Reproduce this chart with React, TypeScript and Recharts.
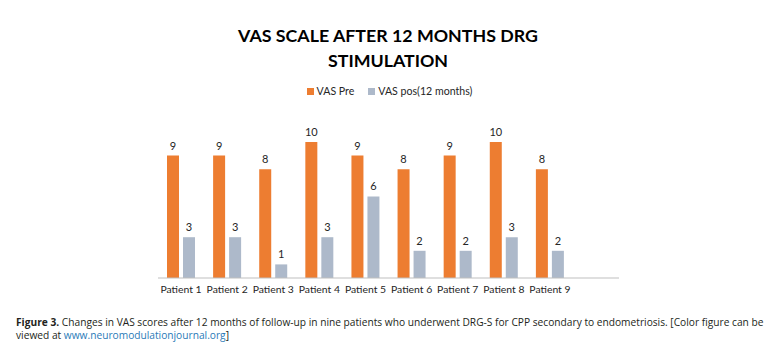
import React from "react";
import { BarChart, Bar, XAxis, YAxis, LabelList, Legend } from "recharts";

const categories = ["Patient 1", "Patient 2", "Patient 3", "Patient 4", "Patient 5", "Patient 6", "Patient 7", "Patient 8", "Patient 9"];
const vasPre = [9, 9, 8, 10, 9, 8, 9, 10, 8];
const vasPost = [3, 3, 1, 3, 6, 2, 2, 3, 2];
const seriesNames = ["VAS Pre", "VAS pos(12 months)"];
const seriesColors = ["#ED7D31", "#ADB9CA"];

const data = categories.map((name, i) => ({ name, pre: vasPre[i], post: vasPost[i] }));

const FONT = "Lato, 'Open Sans', sans-serif";

function LegendContent() {
  return (
    <div style={{ display: "flex", justifyContent: "center", alignItems: "center", fontFamily: FONT, fontSize: 10.6, color: "#262626", paddingLeft: 8 }}>
      {seriesNames.map((n, i) => (
        <div key={n} style={{ display: "flex", alignItems: "center", marginRight: i === 0 ? 14 : 0 }}>
          <span style={{ display: "inline-block", width: 7, height: 7, background: seriesColors[i], marginRight: 3 }} />
          <span>{n}</span>
        </div>
      ))}
    </div>
  );
}

export default function App() {
  return (
    <div style={{ position: "absolute", left: 0, top: 0, width: 771, height: 349, background: "#fff", overflow: "hidden" }}>
      <div style={{ position: "absolute", left: 0, top: 23, width: 776, textAlign: "center", fontFamily: FONT, fontWeight: 700, fontSize: 17.8, lineHeight: "25px", color: "#000" }}>
        VAS SCALE AFTER 12 MONTHS DRG
        <br />
        STIMULATION
      </div>
      <BarChart width={771} height={349} data={data} margin={{ top: 142, right: 152, bottom: 41, left: 158 }} barSize={12} barGap={4}>
        <XAxis dataKey="name" tickLine={false} axisLine={{ stroke: "#BFBFBF" }} tick={{ fontFamily: FONT, fontSize: 10.4, fill: "#262626" }} padding={{ left: 0, right: 46 }} interval={0} />
        <YAxis hide domain={[0, 10]} />
        <Legend layout="horizontal" verticalAlign="middle" align="center" wrapperStyle={{ position: "absolute", top: 85, left: 0, width: 771 }} content={() => <LegendContent />} />
        <Bar dataKey="pre" name={seriesNames[0]} fill={seriesColors[0]} isAnimationActive={false}>
          <LabelList dataKey="pre" position="top" offset={6} style={{ fontFamily: FONT, fontSize: 11, fill: "#262626" }} />
        </Bar>
        <Bar dataKey="post" name={seriesNames[1]} fill={seriesColors[1]} isAnimationActive={false}>
          <LabelList dataKey="post" position="top" offset={6} style={{ fontFamily: FONT, fontSize: 11, fill: "#262626" }} />
        </Bar>
      </BarChart>
      <div style={{ position: "absolute", left: 16, top: 316, width: 760, fontFamily: "'Open Sans', sans-serif", fontSize: 10.2, lineHeight: "13px", color: "#231F20", whiteSpace: "nowrap" }}>
        <b>Figure 3.</b> Changes in VAS scores after 12 months of follow-up in nine patients who underwent DRG-S for CPP secondary to endometriosis. [Color figure can be
        <br />
        viewed at <span style={{ color: "#2A7AB8" }}>www.neuromodulationjournal.org</span>]
      </div>
    </div>
  );
}
